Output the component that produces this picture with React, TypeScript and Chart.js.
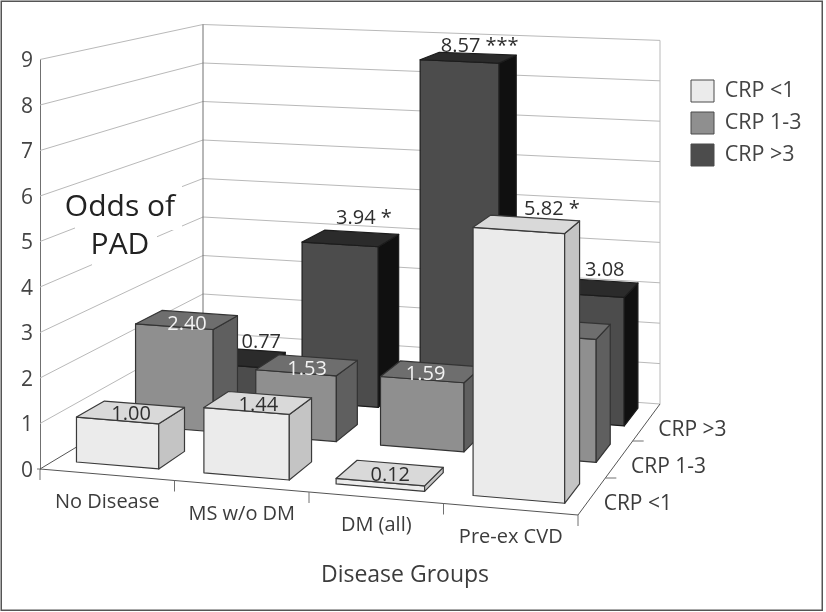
import React, { useEffect, useRef } from "react";
import { Chart, registerables } from "chart.js";

Chart.register(...registerables);

const categories = ["No Disease", "MS w/o DM", "DM (all)", "Pre-ex CVD"];
const seriesNames = ["CRP <1", "CRP 1-3", "CRP >3"];
const crpLow = [1.0, 1.44, 0.12, 5.82];
const crpMid = [2.4, 1.53, 1.59, 2.8];
const crpHigh = [0.77, 3.94, 8.57, 3.08];
const labelsLow = ["1.00", "1.44", "0.12", "5.82 *"];
const labelsMid = ["2.40", "1.53", "1.59", ""];
const labelsHigh = ["0.77", "3.94 *", "8.57 ***", "3.08"];
const yTicks = [0, 1, 2, 3, 4, 5, 6, 7, 8, 9];

const FONT = '"Open Sans", sans-serif';
const TEXT = "#3c3c3c";
const faces = [
  { front: "#ebebeb", top: "#d9d9d9", side: "#c4c4c4", stroke: "#3a3a3a", label: "#2e2e2e" },
  { front: "#8f8f8f", top: "#6e6e6e", side: "#5f5f5f", stroke: "#333333", label: "#f2f2f2" },
  { front: "#4c4c4c", top: "#2b2b2b", side: "#101010", stroke: "#1c1c1c", label: "#2e2e2e" },
];
const seriesLabels = [labelsLow, labelsMid, labelsHigh];
// projection layout: floor corners and unit heights
const FL = [40, 469], FR = [578, 515], BL = [203, 371], BR = [660, 404];
const H = { fl: 45.5, fr: 47, bl: 38.5, br: 40.4 };
const rows = [[0.09, 0.265], [0.46, 0.625], [0.79, 0.95]];
const labelNudge = [
  [[0, 2], [0, 2], [0, 2], [25, -15]],
  [[0, 4], [0, 4], [-6, 3], [0, 0]],
  [[24, -15], [13, -20], [11, -11], [14, -17]],
];

function P(u: number, d: number, v: number) {
  const a = u / 4;
  const fx = FL[0] + (FR[0] - FL[0]) * a, fy = FL[1] + (FR[1] - FL[1]) * a;
  const bx = BL[0] + (BR[0] - BL[0]) * a, by = BL[1] + (BR[1] - BL[1]) * a;
  const hf = H.fl + (H.fr - H.fl) * a, hb = H.bl + (H.br - H.bl) * a;
  const x = fx + (bx - fx) * d, y = fy + (by - fy) * d, h = hf + (hb - hf) * d;
  return [x, y - h * v];
}
const warp = (u: number) => u + 0.018 * u * (u - 3.55);

function line(ctx: CanvasRenderingContext2D, a: number[], b: number[], color: string, w = 1) {
  ctx.strokeStyle = color;
  ctx.lineWidth = w;
  ctx.beginPath();
  ctx.moveTo(a[0], a[1]);
  ctx.lineTo(b[0], b[1]);
  ctx.stroke();
}
function poly(ctx: CanvasRenderingContext2D, pts: number[][], fill: string, stroke: string) {
  ctx.fillStyle = fill;
  ctx.strokeStyle = stroke;
  ctx.lineWidth = 1.2;
  ctx.lineJoin = "round";
  ctx.beginPath();
  pts.forEach((p, i) => (i ? ctx.lineTo(p[0], p[1]) : ctx.moveTo(p[0], p[1])));
  ctx.closePath();
  ctx.fill();
  ctx.stroke();
}
function text(ctx: CanvasRenderingContext2D, s: string, x: number, y: number, size: number, color = TEXT, align: CanvasTextAlign = "center") {
  ctx.font = `${size}px ${FONT}`;
  ctx.fillStyle = color;
  ctx.textAlign = align;
  ctx.textBaseline = "middle";
  ctx.fillText(s, x, y);
}

const scene = {
  id: "scene",
  afterLayout(chart: any) {
    const lg = chart.legend;
    const pad = lg.options.labels.padding;
    lg.left = 691 - pad;
    lg.top = 80 - pad;
  },
  beforeDraw(chart: any) {
    const ctx = chart.ctx;
    ctx.save();
    ctx.fillStyle = "#ffffff";
    ctx.fillRect(0, 0, chart.width, chart.height);
    ctx.strokeStyle = "#555555";
    ctx.lineWidth = 1.5;
    ctx.strokeRect(1.25, 1.25, 821, 609);
    ctx.restore();
  },
  beforeDatasetsDraw(chart: any) {
    const ctx: CanvasRenderingContext2D = chart.ctx;
    const { x: xs, y: ys } = chart.scales;
    ctx.save();
    const grid = "#b9b9b9", axis = "#707070";
    // walls
    ys.ticks.forEach((t: any) => {
      if (t.value === 0) return;
      line(ctx, P(0, 0, t.value), P(0, 1, t.value), grid);
      line(ctx, P(0, 1, t.value), P(4, 1, t.value), grid);
    });
    const max = ys.max;
    line(ctx, P(0, 1, 0), P(0, 1, max), axis);
    line(ctx, P(4, 1, 0), P(4, 1, max), grid);
    line(ctx, P(0, 1, 0), P(4, 1, 0), grid);
    line(ctx, P(0, 0, 0), P(0, 1, 0), "#555555");
    line(ctx, P(0, 0, 0), P(4, 0, 0), "#555555");
    line(ctx, P(4, 0, 0), P(4, 1, 0), "#555555");
    const origin = P(0, 0, 0);
    line(ctx, origin, [origin[0] - 3, origin[1]], axis);
    // x ticks
    for (let i = 0; i <= categories.length; i++) {
      const p = P(i, 0, 0);
      line(ctx, p, [p[0], p[1] + 11], axis);
    }
    // depth ticks
    [1 / 3, 2 / 3].forEach((d) => {
      const p = P(4, d, 0);
      line(ctx, p, [p[0] + 11, p[1]], axis);
    });

    // "Odds of PAD" wall label, blanking gridlines behind it
    ctx.fillStyle = "#ffffff";
    ctx.fillRect(75, 186, 107, 44);
    ctx.fillRect(92, 230, 65, 38);
    text(ctx, "Odds of", 120, 207, 30, "#222222");
    text(ctx, "PAD", 120, 245, 30, "#222222");

    const span = xs.right - xs.left;
    const toU = (px: number) => ((px - xs.left) / span) * categories.length;
    const tops: any[] = [];
    // bars: back row first, left to right
    [2, 1, 0].forEach((ds) => {
      const meta = chart.getDatasetMeta(ds);
      const [d0, d1] = rows[ds];
      const f = faces[ds];
      meta.data.forEach((el: any, i: number) => {
        const v = ys.getValueForPixel(el.y);
        const u0 = warp(toU(el.x - el.width / 2));
        const u1 = warp(toU(el.x + el.width / 2));
        const a = P(u0, d0, v), b = P(u1, d0, v), c = P(u1, d1, v), e = P(u0, d1, v);
        const a0 = P(u0, d0, 0), b0 = P(u1, d0, 0), c0 = P(u1, d1, 0);
        poly(ctx, [a, b, b0, a0], f.front, f.stroke);
        poly(ctx, [b, c, c0, b0], f.side, f.stroke);
        poly(ctx, [a, b, c, e], f.top, f.stroke);
        tops.push({ ds, i, x: (a[0] + b[0] + c[0] + e[0]) / 4, y: (a[1] + b[1] + c[1] + e[1]) / 4 });
      });
    });
    tops.forEach((t) => {
      const s = seriesLabels[t.ds][t.i];
      if (!s) return;
      const [nx, ny] = labelNudge[t.ds][t.i];
      text(ctx, s, t.x + nx, t.y + ny, 20, faces[t.ds].label);
    });

    // category + depth labels, axis title
    categories.forEach((c, i) => {
      const p = P(i + 0.5, 0, 0);
      text(ctx, c, p[0], p[1] + 28, 20);
    });
    seriesNames.forEach((s, i) => {
      const p = P(4, (i + 0.5) / seriesNames.length, 0);
      text(ctx, s, p[0] + 12, p[1] + 8, 21, TEXT, "left");
    });
    text(ctx, "Disease Groups", 405, 575, 23);
    ctx.restore();
    return false;
  },
};

export default function App() {
  const ref = useRef<HTMLCanvasElement | null>(null);
  useEffect(() => {
    const chart = new Chart(ref.current as HTMLCanvasElement, {
      type: "bar",
      data: {
        labels: categories,
        datasets: [crpLow, crpMid, crpHigh].map((data, i) => ({
          label: seriesNames[i],
          data,
          backgroundColor: faces[i].front,
          borderColor: "#4a4a4a",
          borderWidth: 1,
          categoryPercentage: 0.65,
          barPercentage: 1,
        })),
      },
      options: {
        responsive: false,
        animation: false,
        layout: { padding: { top: 59, bottom: 143, left: 0, right: 0 } },
        scales: {
          x: { display: false, stacked: true },
          y: {
            stacked: false,
            min: 0,
            max: 9,
            afterBuildTicks: (s: any) => { s.ticks = yTicks.map((value) => ({ value })); },
            afterFit: (s: any) => { s.width = 40; },
            ticks: { color: "#444444", font: { family: FONT, size: 21 }, padding: 7, labelOffset: 2 },
            grid: { display: false, drawTicks: false },
            border: { color: "#707070" },
          },
        },
        plugins: {
          tooltip: { enabled: false },
          legend: {
            position: "right",
            align: "start",
            labels: {
              boxWidth: 23,
              boxHeight: 22,
              padding: 10,
              color: "#444444",
              font: { family: FONT, size: 21.5 },
            },
          },
        },
      } as any,
      plugins: [scene],
    } as any);
    return () => chart.destroy();
  }, []);
  return (
    <canvas
      ref={ref}
      width={826}
      height={612}
      style={{ position: "fixed", left: 0, top: 0, display: "block" }}
    />
  );
}
